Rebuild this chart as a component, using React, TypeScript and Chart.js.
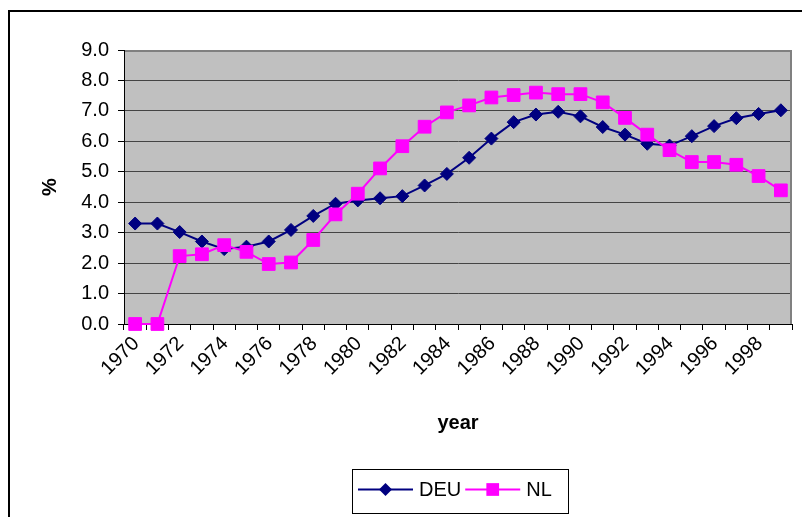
import React, { useEffect, useRef } from 'react';
import { Chart, registerables } from 'chart.js';

Chart.register(...registerables);

const years = [
  '1970', '1971', '1972', '1973', '1974', '1975', '1976', '1977', '1978', '1979',
  '1980', '1981', '1982', '1983', '1984', '1985', '1986', '1987', '1988', '1989',
  '1990', '1991', '1992', '1993', '1994', '1995', '1996', '1997', '1998', '1999',
];

const deuValues = [
  3.30, 3.30, 3.02, 2.71, 2.46, 2.54, 2.71, 3.09, 3.55, 3.95,
  4.06, 4.13, 4.20, 4.55, 4.93, 5.46, 6.09, 6.63, 6.88, 6.97,
  6.82, 6.47, 6.22, 5.92, 5.86, 6.17, 6.50, 6.76, 6.90, 7.02,
];

const nlValues = [
  0.00, 0.00, 2.23, 2.29, 2.59, 2.37, 1.97, 2.02, 2.76, 3.60,
  4.28, 5.11, 5.84, 6.48, 6.95, 7.18, 7.44, 7.52, 7.60, 7.55,
  7.55, 7.28, 6.77, 6.22, 5.71, 5.32, 5.32, 5.23, 4.86, 4.39,
];

const seriesNames = ['DEU', 'NL'];
const yMin = 0;
const yMax = 9;
const yStep = 1;
const xTitle = 'year';
const yTitle = '%';

const FONT = '"Liberation Sans", Arial, sans-serif';

function drawMarker(ctx: CanvasRenderingContext2D, style: string, x: number, y: number, r: number, color: string) {
  ctx.save();
  ctx.fillStyle = color;
  ctx.strokeStyle = color;
  ctx.beginPath();
  if (style === 'rectRot') {
    ctx.moveTo(x, y - r);
    ctx.lineTo(x + r, y);
    ctx.lineTo(x, y + r);
    ctx.lineTo(x - r, y);
    ctx.closePath();
  } else {
    const s = r * Math.SQRT1_2;
    ctx.rect(x - s, y - s, 2 * s, 2 * s);
  }
  ctx.fill();
  ctx.restore();
}

export default function App() {
  const ref = useRef<HTMLCanvasElement>(null);

  useEffect(() => {
    if (!ref.current) return;

    const plotBg = {
      id: 'plotBg',
      beforeDraw(chart: any) {
        const { ctx, chartArea: a } = chart;
        ctx.save();
        ctx.fillStyle = '#C0C0C0';
        ctx.fillRect(a.left, a.top, a.right - a.left, a.bottom - a.top);
        ctx.restore();
      },
      beforeDatasetsDraw(chart: any) {
        const { ctx, chartArea: a } = chart;
        ctx.save();
        ctx.fillStyle = '#808080';
        ctx.fillRect(a.left + 1, a.top, a.right - a.left - 1, 2);
        ctx.fillRect(a.right - 2, a.top, 2, a.bottom - a.top);
        ctx.restore();
      },
    };

    const boxLegend = {
      id: 'boxLegend',
      afterDraw(chart: any) {
        const { ctx } = chart;
        const boxLeft = 352;
        const boxTop = 469;
        const boxW = 216;
        const boxH = 44;
        const cy = boxTop + 20.5;
        ctx.save();
        ctx.strokeStyle = '#000';
        ctx.lineWidth = 1;
        ctx.strokeRect(boxLeft + 0.5, boxTop + 0.5, boxW, boxH);
        ctx.font = `20px ${FONT}`;
        ctx.textBaseline = 'middle';
        ctx.textAlign = 'left';
        let x = boxLeft + 6;
        chart.data.datasets.forEach((ds: any) => {
          ctx.strokeStyle = ds.borderColor;
          ctx.lineWidth = 2;
          ctx.beginPath();
          ctx.moveTo(x, cy);
          ctx.lineTo(x + 55, cy);
          ctx.stroke();
          drawMarker(ctx, ds.pointStyle, x + 27.5, cy, ds.pointRadius, ds.backgroundColor);
          ctx.fillStyle = '#000';
          ctx.fillText(ds.label, x + 61, cy + 1);
          x += 61 + ctx.measureText(ds.label).width + 4;
        });
        ctx.restore();
      },
    };

    const chart = new Chart(ref.current, {
      type: 'line',
      data: {
        labels: years,
        datasets: [
          {
            label: seriesNames[0],
            data: deuValues,
            borderColor: '#000080',
            backgroundColor: '#000080',
            borderWidth: 2,
            pointStyle: 'rectRot',
            pointRadius: 6.5,
            pointBorderWidth: 1,
            tension: 0,
            order: 1,
            clip: false,
          },
          {
            label: seriesNames[1],
            data: nlValues,
            borderColor: '#FF00FF',
            backgroundColor: '#FF00FF',
            borderWidth: 2,
            pointStyle: 'rect',
            pointRadius: 9,
            pointBorderWidth: 1,
            tension: 0,
            order: 0,
            clip: false,
          },
        ],
      },
      plugins: [plotBg, boxLegend],
      options: {
        responsive: false,
        animation: false,
        events: [],
        layout: { padding: { top: 50, right: 8, bottom: 73, left: 0 } },
        plugins: {
          legend: { display: false },
          tooltip: { enabled: false },
          title: { display: false },
        },
        scales: {
          x: {
            type: 'category',
            offset: true,
            grid: {
              offset: true,
              drawOnChartArea: false,
              tickLength: 6,
              color: '#000',
              tickColor: '#000',
            },
            border: { color: '#000', width: 1 },
            ticks: {
              autoSkip: false,
              maxRotation: 45,
              minRotation: 45,
              padding: 2,
              labelOffset: 1,
              color: '#000',
              font: { family: FONT, size: 20 },
              callback: (_v: any, i: number) => (i % 2 === 0 ? years[i] : ''),
            },
            title: {
              display: true,
              text: xTitle,
              color: '#000',
              font: { family: FONT, size: 20, weight: 'bold' },
              padding: { top: 0, bottom: 9 },
            },
            afterFit: (s: any) => {
              s.height = 120;
              s.paddingLeft = 0;
              s.paddingRight = 0;
            },
          },
          y: {
            min: yMin,
            max: yMax,
            grid: {
              color: '#444',
              tickColor: '#000',
              tickLength: 6,
              lineWidth: 1,
            },
            border: { color: '#000', width: 1 },
            ticks: {
              stepSize: yStep,
              padding: 9,
              color: '#000',
              font: { family: FONT, size: 20 },
              callback: (v: any) => Number(v).toFixed(1),
            },
            title: {
              display: true,
              text: yTitle,
              color: '#000',
              font: { family: FONT, size: 20, weight: 'bold' },
              padding: { top: 38, bottom: 0 },
            },
            afterFit: (s: any) => {
              s.width = 124;
              s.paddingTop = 0;
              s.paddingBottom = 0;
            },
          },
        },
      },
    } as any);

    return () => chart.destroy();
  }, []);

  return (
    <div
      style={{
        position: 'fixed',
        left: 0,
        top: 0,
        width: 802,
        height: 517,
        overflow: 'hidden',
        background: '#fff',
      }}
    >
      <div
        style={{
          position: 'absolute',
          left: 8,
          top: 10,
          width: 900,
          height: 700,
          borderLeft: '2px solid #000',
          borderTop: '2px solid #000',
        }}
      />
      <canvas
        ref={ref}
        width={802}
        height={517}
        style={{ position: 'absolute', left: 0, top: 0, width: 802, height: 517 }}
      />
    </div>
  );
}
